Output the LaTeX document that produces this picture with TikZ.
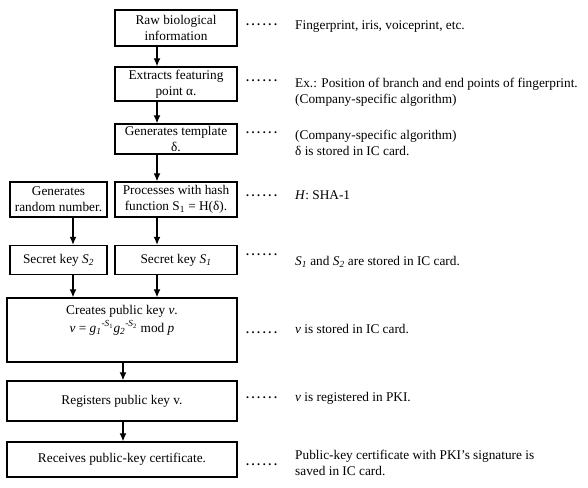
\documentclass[tikz,border=0pt]{standalone}
\usepackage{fontspec}
\setmainfont{Liberation Serif}
\usetikzlibrary{arrows.meta}
\newcommand{\dotrow}{\makebox[31pt]{.\hfill.\hfill.\hfill.\hfill.\hfill.}}
\begin{document}
\begin{tikzpicture}[x=1pt,y=-1pt,
  box/.style={draw,line width=1.4pt,rectangle,inner sep=0pt,align=center,font=\fontsize{13.3}{16}\selectfont},
  dotsn/.style={inner sep=0pt,font=\fontsize{12}{12}\selectfont\bfseries},
  note/.style={anchor=west,inner sep=0pt,align=left,font=\fontsize{13.3}{16}\selectfont},
  arr/.style={line width=1.2pt,-{Latex[length=8pt,width=7pt]}}]
\useasboundingbox (0,0) rectangle (588,487);
% boxes
\node[box,minimum width=122pt,minimum height=36pt] (raw) at (176,28) {Raw biological\\information};
\node[box,minimum width=122pt,minimum height=34pt] (ext) at (176,84) {Extracts featuring\\point α.};
\node[box,minimum width=122pt,minimum height=30pt] (gen) at (176,139) {Generates template\\δ.};
\node[box,minimum width=122pt,minimum height=35pt] (hash) at (176,199.5) {Processes with hash\\function S\textsubscript{1} = H(δ).};
\node[box,minimum width=97pt,minimum height=35pt] (rnd) at (58.5,199.5) {Generates\\random number.};
\node[box,minimum width=97pt,minimum height=29pt] (s2) at (58.5,260) {Secret key \textit{S\textsubscript{2}}};
\node[box,minimum width=122pt,minimum height=29pt] (s1) at (176,260) {Secret key \textit{S\textsubscript{1}}};
\node[box,minimum width=230pt,minimum height=64pt] (pub) at (122,330) {};
\node[inner sep=0pt,align=center,font=\fontsize{13.3}{18}\selectfont] (pubtxt) at (122,320) {Creates public key \textit{v}.\\\textit{v} = \textit{g\textsubscript{1}}\textsuperscript{-\textit{S}\textsubscript{1}}\textit{g\textsubscript{2}}\textsuperscript{-\textit{S}\textsubscript{2}} mod \textit{p}};
\node[box,minimum width=230pt,minimum height=40pt] (reg) at (122,401) {Registers public key v.};
\node[box,minimum width=230pt,minimum height=35pt] (rec) at (122,459.5) {Receives public-key certificate.};
% arrow columns
\coordinate (cm) at (157,0);
\coordinate (cr) at (73,0);
\coordinate (cw) at (123,0);
\draw[arr] (raw.south -| cm) -- (ext.north -| cm);
\draw[arr] (ext.south -| cm) -- (gen.north -| cm);
\draw[arr] (gen.south -| cm) -- (hash.north -| cm);
\draw[arr] (hash.south -| cm) -- (s1.north -| cm);
\draw[arr] (s1.south -| cm) -- (pub.north -| cm);
\draw[arr] (rnd.south -| cr) -- (s2.north -| cr);
\draw[arr] (s2.south -| cr) -- (pub.north -| cr);
\draw[arr] (pub.south -| cw) -- (reg.north -| cw);
\draw[arr] (reg.south -| cw) -- (rec.north -| cw);
% dots
\node[dotsn] (d1) at (261.5,25) {\dotrow};
\node[dotsn] (d2) at (261.5,81) {\dotrow};
\node[dotsn] (d3) at (261.5,133) {\dotrow};
\node[dotsn] (d4) at (261.5,196) {\dotrow};
\node[dotsn] (d5) at (261.5,255) {\dotrow};
\node[dotsn] (d6) at (261.5,333) {\dotrow};
\node[dotsn] (d7) at (261.5,398) {\dotrow};
\node[dotsn] (d8) at (261.5,465) {\dotrow};
% notes
\node[note] (n1) at (295,27) {Fingerprint, iris, voiceprint, etc.};
\node[note] (n2) at (295,92) {Ex.: Position of branch and end points of fingerprint.\\(Company-specific algorithm)};
\node[note] (n3) at (295,143) {(Company-specific algorithm)\\δ is stored in IC card.};
\node[note] (n4) at (295,195) {\textit{H}: SHA-1};
\node[note] (n5) at (295,262) {\textit{S\textsubscript{1}} and \textit{S\textsubscript{2}} are stored in IC card.};
\node[note] (n6) at (295,329) {\textit{v} is stored in IC card.};
\node[note] (n7) at (295,398) {\textit{v} is registered in PKI.};
\node[note] (n8) at (295,463) {Public-key certificate with PKI’s signature is\\saved in IC card.};
\end{tikzpicture}
\end{document}
